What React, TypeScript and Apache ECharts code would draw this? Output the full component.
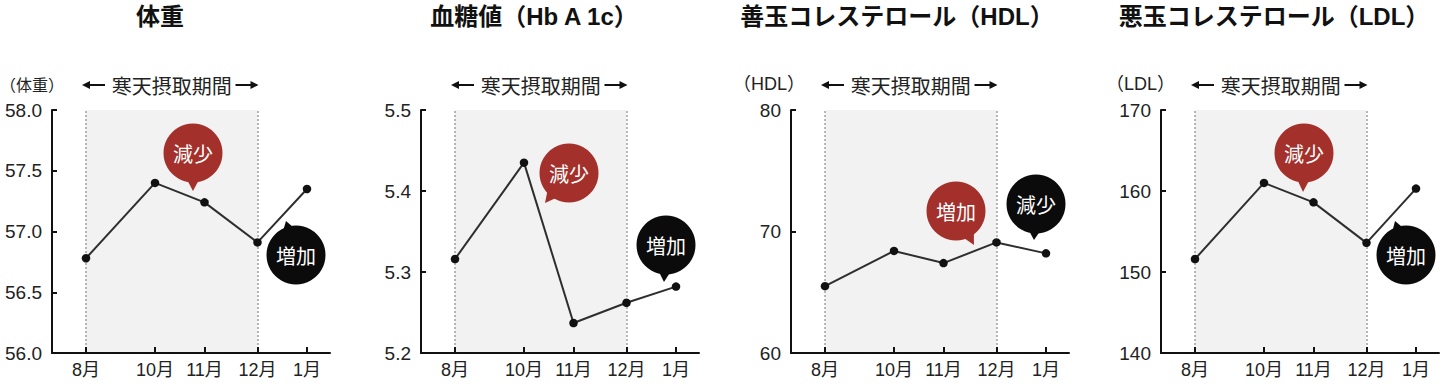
import React, { useEffect, useRef } from "react";
import * as echarts from "echarts";

// ---- data ----
const MONTHS = ["8月", "10月", "11月", "12月", "1月"];
// measurement timing along the x axis (in month-like units from August)
const MONTH_POS = [0, 1.38, 2.37, 3.43, 4.42];
const WEIGHT = [56.78, 57.4, 57.24, 56.91, 57.35];
const HBA1C = [5.316, 5.435, 5.237, 5.262, 5.282];
const HDL = [65.5, 68.4, 67.4, 69.1, 68.2];
const LDL = [151.6, 161.0, 158.6, 153.6, 160.3];
const TITLES = ["体重", "血糖値（Hb A 1c）", "善玉コレステロール（HDL）", "悪玉コレステロール（LDL）"];
const UNITS = ["（体重）", "", "（HDL）", "（LDL）"];
const Y_MIN = [56, 5.2, 60, 140];
const Y_MAX = [58, 5.5, 80, 170];
const Y_STEP = [0.5, 0.1, 10, 10];
const Y_DECIMALS = [1, 1, 0, 0];
const PERIOD_LABEL = "寒天摂取期間";
const PERIOD_RANGE = [0, 3]; // from 8月 to 12月
const BUBBLE_TEXT = [
  ["減少", "増加"],
  ["減少", "増加"],
  ["増加", "減少"],
  ["減少", "増加"],
];

// ---- layout ----
const GRID_LEFT = [52, 421, 791, 1161];
const GRID_TOP = 110;
const GRID_W = 278;
const GRID_H = 243;
const X_MIN = -0.68;
const X_MAX = 4.88;
const TITLE_CX = [160, 534, 897, 1274];
// bubble layout relative to grid left: [cx offset, cy, tip offset x, tip y]
const BUBBLE_LAYOUT = [
  [[141, 153, 141, 191], [244, 255, 234, 221]],
  [[148, 173, 124, 203], [245, 245, 243, 282]],
  [[165, 211, 183, 245], [245, 204, 243, 240]],
  [[143, 153, 142, 192], [245, 255, 234, 221]],
];
const RED = "#a3302a";
const BLACK = "#0b0b0b";
const CJK = "'Noto Sans CJK JP', sans-serif";
const LATIN = "'Liberation Sans', 'Noto Sans CJK JP', sans-serif";

function bubble(cx: number, cy: number, tx: number, ty: number, color: string, text: string) {
  const r = 29.5;
  const ang = Math.atan2(ty - cy, tx - cx);
  const s = 0.3;
  const p1 = [cx + r * 0.85 * Math.cos(ang - s), cy + r * 0.85 * Math.sin(ang - s)];
  const p2 = [cx + r * 0.85 * Math.cos(ang + s), cy + r * 0.85 * Math.sin(ang + s)];
  return [
    { type: "polygon", z: 20, shape: { points: [p1, p2, [tx, ty]] }, style: { fill: color } },
    { type: "circle", z: 20, shape: { cx, cy, r }, style: { fill: color } },
    {
      type: "text",
      z: 21,
      x: cx,
      y: cy,
      style: {
        text,
        fill: "#fff",
        font: `20px ${CJK}`,
        align: "center",
        verticalAlign: "middle",
        textAlign: "center",
        textVerticalAlign: "middle",
      },
    },
  ];
}

export default function App() {
  const ref = useRef<HTMLDivElement>(null);
  useEffect(() => {
    const chart = echarts.init(ref.current!, null, { renderer: "svg" });
    const panels = [0, 1, 2, 3];
    const values = [WEIGHT, HBA1C, HDL, LDL];
    const nearestIdx = (v: number) => {
      let best = 0;
      MONTH_POS.forEach((p, k) => {
        if (Math.abs(p - v) < Math.abs(MONTH_POS[best] - v)) best = k;
      });
      return best;
    };
    const option: any = {
      animation: false,
      grid: panels.map((i) => ({ left: GRID_LEFT[i], top: GRID_TOP, width: GRID_W, height: GRID_H })),
      xAxis: panels.map((i) => ({
        type: "value",
        gridIndex: i,
        min: X_MIN,
        max: X_MAX,
        z: 5,
        axisLine: { onZero: false, lineStyle: { color: "#111", width: 2 } },
        axisTick: { inside: true, length: 6, customValues: MONTH_POS, lineStyle: { color: "#111", width: 2 } },
        axisLabel: {
          customValues: MONTH_POS,
          formatter: (v: number) => MONTHS[nearestIdx(v)],
          margin: 8,
          color: "#222",
          fontSize: 18,
          fontFamily: LATIN,
        },
        splitLine: { show: false },
      })),
      yAxis: panels.map((i) => ({
        type: "value",
        gridIndex: i,
        min: Y_MIN[i],
        max: Y_MAX[i],
        interval: Y_STEP[i],
        z: 5,
        axisLine: { show: true, onZero: false, lineStyle: { color: "#111", width: 2 } },
        axisTick: { show: true, inside: true, length: 5, lineStyle: { color: "#111", width: 2 } },
        axisLabel: {
          formatter: (v: number) => v.toFixed(Y_DECIMALS[i]),
          margin: 10,
          color: "#222",
          fontSize: 19,
          fontFamily: LATIN,
        },
        splitLine: { show: false },
      })),
      series: panels.map((i) => ({
        type: "line",
        xAxisIndex: i,
        yAxisIndex: i,
        data: MONTH_POS.map((x, k) => [x, values[i][k]]),
        symbol: "circle",
        symbolSize: 8.5,
        itemStyle: { color: "#111" },
        lineStyle: { color: "#2e2e2e", width: 2 },
        z: 4,
        markArea: {
          silent: true,
          z: 1,
          itemStyle: { color: "#f2f2f2" },
          data: [[{ xAxis: MONTH_POS[PERIOD_RANGE[0]] }, { xAxis: MONTH_POS[PERIOD_RANGE[1]] }]],
        },
        markLine: {
          silent: true,
          z: 2,
          symbol: ["none", "none"],
          label: { show: false },
          lineStyle: { color: "#a0a0a0", type: [2, 2], width: 1.5 },
          data: [{ xAxis: MONTH_POS[PERIOD_RANGE[0]] }, { xAxis: MONTH_POS[PERIOD_RANGE[1]] }],
        },
      })),
    };
    chart.setOption(option);

    const g: any[] = [];
    panels.forEach((i) => {
      g.push({
        type: "text",
        z: 10,
        x: TITLE_CX[i],
        y: 16,
        style: {
          text: TITLES[i],
          fill: "#111",
          font: `bold 24px ${LATIN}`,
          align: "center",
          verticalAlign: "middle",
          textAlign: "center",
          textVerticalAlign: "middle",
        },
      });
      if (UNITS[i]) {
        const first = i === 0;
        g.push({
          type: "text",
          z: 10,
          x: first ? 0 : GRID_LEFT[i] + 14,
          y: 84,
          style: {
            text: UNITS[i],
            fill: "#222",
            font: first ? `16px ${CJK}` : `18px ${LATIN}`,
            align: first ? "left" : "right",
            verticalAlign: "middle",
            textAlign: first ? "left" : "right",
            textVerticalAlign: "middle",
          },
        });
      }
      const xa = chart.convertToPixel({ xAxisIndex: i } as any, MONTH_POS[PERIOD_RANGE[0]]) as number;
      const xb = chart.convertToPixel({ xAxisIndex: i } as any, MONTH_POS[PERIOD_RANGE[1]]) as number;
      const ay = 85;
      const mid = (xa + xb) / 2;
      g.push({
        type: "text",
        z: 10,
        x: mid,
        y: ay,
        style: {
          text: PERIOD_LABEL,
          fill: "#222",
          font: `20px ${CJK}`,
          align: "center",
          verticalAlign: "middle",
          textAlign: "center",
          textVerticalAlign: "middle",
        },
      });
      g.push({ type: "line", z: 10, shape: { x1: xa - 2, y1: ay, x2: xa + 19, y2: ay }, style: { stroke: "#111", lineWidth: 2 } });
      g.push({ type: "polygon", z: 10, shape: { points: [[xa - 4, ay], [xa + 4, ay - 4], [xa + 4, ay + 4]] }, style: { fill: "#111" } });
      g.push({ type: "line", z: 10, shape: { x1: xb - 22, y1: ay, x2: xb - 1, y2: ay }, style: { stroke: "#111", lineWidth: 2 } });
      g.push({ type: "polygon", z: 10, shape: { points: [[xb + 1, ay], [xb - 7, ay - 4], [xb - 7, ay + 4]] }, style: { fill: "#111" } });

      BUBBLE_LAYOUT[i].forEach((b, k) => {
        const gl = GRID_LEFT[i];
        g.push(...bubble(gl + b[0], b[1], gl + b[2], b[3], k === 0 ? RED : BLACK, BUBBLE_TEXT[i][k]));
      });
    });
    chart.setOption({ graphic: { elements: g } });
    return () => chart.dispose();
  }, []);
  return (
    <div
      ref={ref}
      style={{ position: "fixed", left: 0, top: 0, width: 1441, height: 387, background: "#fff" }}
    />
  );
}
